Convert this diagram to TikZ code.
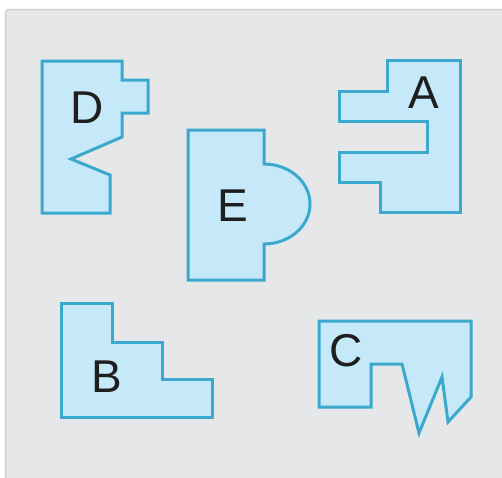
\documentclass[tikz,border=0pt]{standalone}
\usepackage{fontspec}
\setmainfont{Liberation Sans}
\usepackage{xcolor}
\usetikzlibrary{positioning}
\definecolor{pborder}{RGB}{59,168,206}
\definecolor{pfill}{RGB}{198,233,250}
\definecolor{bgfill}{RGB}{230,231,233}
\definecolor{bgline}{RGB}{208,208,210}
\definecolor{ink}{RGB}{30,30,30}

\begin{document}
\begin{tikzpicture}[x=1pt, y=-1pt,
  piece/.style={draw=pborder, fill=pfill, line width=3pt, line join=miter},
  lbl/.style={font=\fontsize{46}{46}\selectfont, text=ink, inner sep=0pt}]

  \useasboundingbox (0,0) rectangle (502,477);

  % Background panel
  \draw[draw=bgline, fill=bgfill, line width=1.5pt, rounded corners=3pt]
    (5.5,9.5) rectangle (512,490);

  % ── D ── upper left, notch on the right
  \draw[piece] (42,61) -- (122,61) -- (122,80) -- (148,80) -- (148,113)
    -- (122,113) -- (122,137) -- (71,159) -- (110,175) -- (110,213)
    -- (42,213) -- cycle;
  \node[lbl] (labD) at (87,108) {D};

  % ── A ── upper right, comb shape
  \draw[piece] (387,60) -- (460,60) -- (460,212) -- (380,212) -- (380,182)
    -- (339,182) -- (339,152) -- (427,152) -- (427,121) -- (339,121)
    -- (339,91) -- (387,91) -- cycle;
  \node[lbl] (labA) at (424,93) {A};

  % ── E ── centre, rectangle with a rounded lobe
  \draw[piece] (188,130) -- (264,130) -- (264,164)
    arc[start angle=90, end angle=-90, x radius=46, y radius=-40]
    -- (264,280) -- (188,280) -- cycle;
  \node[lbl] (labE) at (233,206) {E};

  % ── B ── lower left, staircase
  \draw[piece] (61,303) -- (112,303) -- (112,342) -- (162,342) -- (162,379)
    -- (212,379) -- (212,417) -- (61,417) -- cycle;
  \node[lbl] (labB) at (107,377) {B};

  % ── C ── lower right, jagged bottom
  \draw[piece] (319,321) -- (471,321) -- (471,397) -- (448,422) -- (442,377)
    -- (419,433) -- (402,364) -- (371,364) -- (371,407) -- (319,407) -- cycle;
  \node[lbl] (labC) at (346,351) {C};

\end{tikzpicture}
\end{document}
